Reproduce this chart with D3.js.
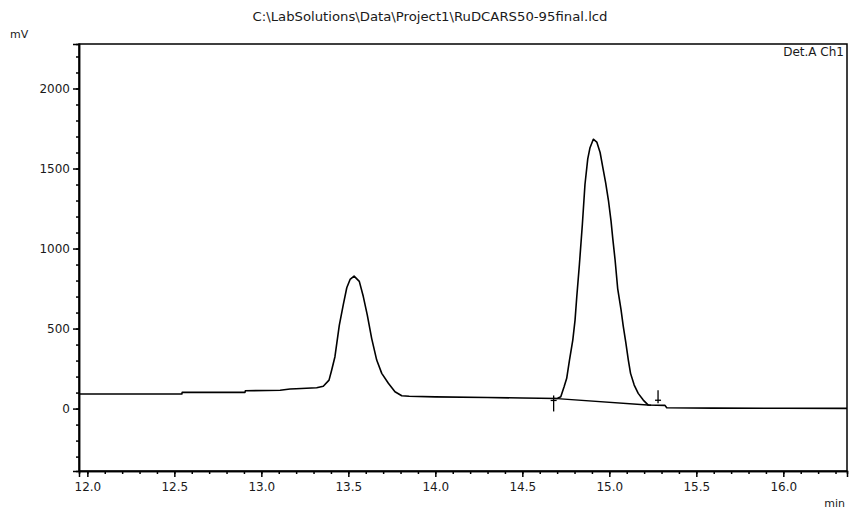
<!DOCTYPE html>
<html>
<head>
<meta charset="utf-8">
<script src="https://cdn.jsdelivr.net/npm/d3@7/dist/d3.min.js"></script>
<style>
  html, body { margin: 0; padding: 0; background: #fff; }
  svg { display: block; }
  text { font-family: "DejaVu Sans", sans-serif; fill: #1a1a1a; }
</style>
</head>
<body>
<svg id="chart" width="850" height="510"></svg>
<script>
// ---- Data ----
const titleText = "C:\\LabSolutions\\Data\\Project1\\RuDCARS50-95final.lcd";
const channelLabel = "Det.A Ch1";
const yUnit = "mV";
const xUnit = "min";

const timeMin = [11.952, 12.30, 12.543, 12.545, 12.906, 12.908, 13.108, 13.165, 13.200, 13.318, 13.356,
  13.389, 13.404, 13.423, 13.448, 13.471, 13.491, 13.510, 13.533, 13.563, 13.586, 13.609,
  13.634, 13.663, 13.692, 13.730, 13.768, 13.807, 13.85, 14.0, 14.3, 14.5, 14.70, 14.721,
  14.740, 14.755, 14.771, 14.790, 14.803, 14.813, 14.828, 14.845, 14.860, 14.876,
  14.889, 14.908, 14.928, 14.947, 14.962, 14.979, 14.995, 15.010, 15.020, 15.033,
  15.048, 15.067, 15.080, 15.095, 15.109, 15.122, 15.143, 15.166, 15.195, 15.224, 15.32,
  15.33, 15.6, 16.0, 16.366];
const signalMv = [91, 91, 91, 101, 101, 111, 115, 122, 124, 130, 140,
  178, 240, 324, 520, 650, 755, 807, 828, 795, 700, 584,
  439, 303, 220, 158, 105, 80, 77, 73, 69, 66, 63, 74,
  136, 189, 303, 428, 553, 700, 900, 1150, 1400, 1560,
  1630, 1683, 1665, 1600, 1510, 1410, 1300, 1170, 1060, 930,
  750, 620, 515, 410, 305, 220, 147, 95, 53, 22, 20,
  5, 3, 2, 1];

// integration baseline under the second peak and its start/end markers
const peakBaseTime = [14.68, 15.24];
const peakBaseMv = [64, 21];
const markerUpTime = [14.68];
const markerDownTime = [15.28];

const xTicks = [12.0, 12.5, 13.0, 13.5, 14.0, 14.5, 15.0, 15.5, 16.0];
const yTicks = [0, 500, 1000, 1500, 2000];

// ---- Layout ----
const svg = d3.select("#chart");
const mLeft = 79, mRight = 847, mTop = 44, mBottom = 471;

const x = d3.scaleLinear().domain([11.952, 16.366]).range([mLeft, mRight]);
const y = d3.scaleLinear().domain([-390, 2278]).range([mBottom, mTop]);

// frame
svg.append("rect")
  .attr("x", mLeft).attr("y", mTop)
  .attr("width", mRight - mLeft).attr("height", mBottom - mTop)
  .attr("fill", "none").attr("stroke", "#000").attr("stroke-width", 1.5);

// X axis: major ticks with labels, minor every 0.1
const xMinor = d3.range(120, 164).map(d => d / 10).filter(d => d >= 11.952 && d <= 16.366);
const xAxisMinor = d3.axisBottom(x).tickValues(xMinor).tickSize(3).tickFormat("");
const xAxisMajor = d3.axisBottom(x).tickValues(xTicks).tickSize(6).tickFormat(d3.format(".1f"));

const gxMinor = svg.append("g").attr("transform", `translate(0,${mBottom})`).call(xAxisMinor);
const gx = svg.append("g").attr("transform", `translate(0,${mBottom})`).call(xAxisMajor);
[gxMinor, gx].forEach(g => {
  g.select(".domain").attr("stroke", "#000").attr("stroke-width", 1.5);
  g.selectAll(".tick line").attr("stroke", "#000").attr("stroke-width", 1.5);
});
gx.selectAll(".tick text")
  .attr("y", 11).attr("dy", "0.71em")
  .style("font-family", "DejaVu Sans, sans-serif").style("font-size", "12px").attr("fill", "#1a1a1a");

// Y axis: major ticks with labels, minor every 100
const yMinor = d3.range(-300, 2300, 100);
const yAxisMinor = d3.axisLeft(y).tickValues(yMinor).tickSize(3).tickFormat("");
const yAxisMajor = d3.axisLeft(y).tickValues(yTicks).tickSize(6).tickFormat(d3.format("d"));

const gyMinor = svg.append("g").attr("transform", `translate(${mLeft},0)`).call(yAxisMinor);
const gy = svg.append("g").attr("transform", `translate(${mLeft},0)`).call(yAxisMajor);
[gyMinor, gy].forEach(g => {
  g.select(".domain").attr("stroke", "#000").attr("stroke-width", 1.5);
  g.selectAll(".tick line").attr("stroke", "#000").attr("stroke-width", 1.5);
});
gy.selectAll(".tick text")
  .attr("x", -9).attr("dy", "0.36em")
  .style("font-family", "DejaVu Sans, sans-serif").style("font-size", "12px").attr("fill", "#1a1a1a");

// chromatogram trace
const line = d3.line().x((d, i) => x(timeMin[i])).y(d => y(d));
svg.append("path")
  .datum(signalMv)
  .attr("d", line)
  .attr("fill", "none").attr("stroke", "#000").attr("stroke-width", 1.6)
  .attr("stroke-linejoin", "round");

// integration baseline
const bl = d3.line().x((d, i) => x(peakBaseTime[i])).y(d => y(d));
svg.append("path").datum(peakBaseMv).attr("d", bl)
  .attr("fill", "none").attr("stroke", "#000").attr("stroke-width", 1.4);

// peak start marker (up) and end marker (down)
const baseAt = t => {
  const i = d3.bisectLeft(timeMin, t);
  const t0 = timeMin[i - 1], t1 = timeMin[i];
  const v0 = signalMv[i - 1], v1 = signalMv[i];
  return v0 + (v1 - v0) * (t - t0) / (t1 - t0);
};
markerUpTime.forEach(t => {
  const cx = x(t), cy = y(baseAt(t));
  svg.append("line").attr("x1", cx).attr("x2", cx).attr("y1", cy - 3).attr("y2", cy + 13)
    .attr("stroke", "#000").attr("stroke-width", 1.3);
  svg.append("line").attr("x1", cx - 3).attr("x2", cx + 3).attr("y1", cy + 2).attr("y2", cy + 2)
    .attr("stroke", "#000").attr("stroke-width", 1.3);
});
markerDownTime.forEach(t => {
  const cx = x(t), cy = y(baseAt(t));
  svg.append("line").attr("x1", cx).attr("x2", cx).attr("y1", cy - 15).attr("y2", cy - 2)
    .attr("stroke", "#000").attr("stroke-width", 1.3);
  svg.append("line").attr("x1", cx - 3).attr("x2", cx + 3).attr("y1", cy - 5).attr("y2", cy - 5)
    .attr("stroke", "#000").attr("stroke-width", 1.3);
});

// texts
svg.append("text").attr("x", 430).attr("y", 21).attr("text-anchor", "middle")
  .attr("textLength", 355).attr("lengthAdjust", "spacingAndGlyphs")
  .style("font-size", "12px").text(titleText);
svg.append("text").attr("x", 10).attr("y", 38).style("font-size", "11px").text(yUnit);
svg.append("text").attr("x", 845).attr("y", 507).attr("text-anchor", "end").style("font-size", "11px").text(xUnit);
svg.append("text").attr("x", 844).attr("y", 56).attr("text-anchor", "end").style("font-size", "12px").text(channelLabel);
</script>
</body>
</html>
